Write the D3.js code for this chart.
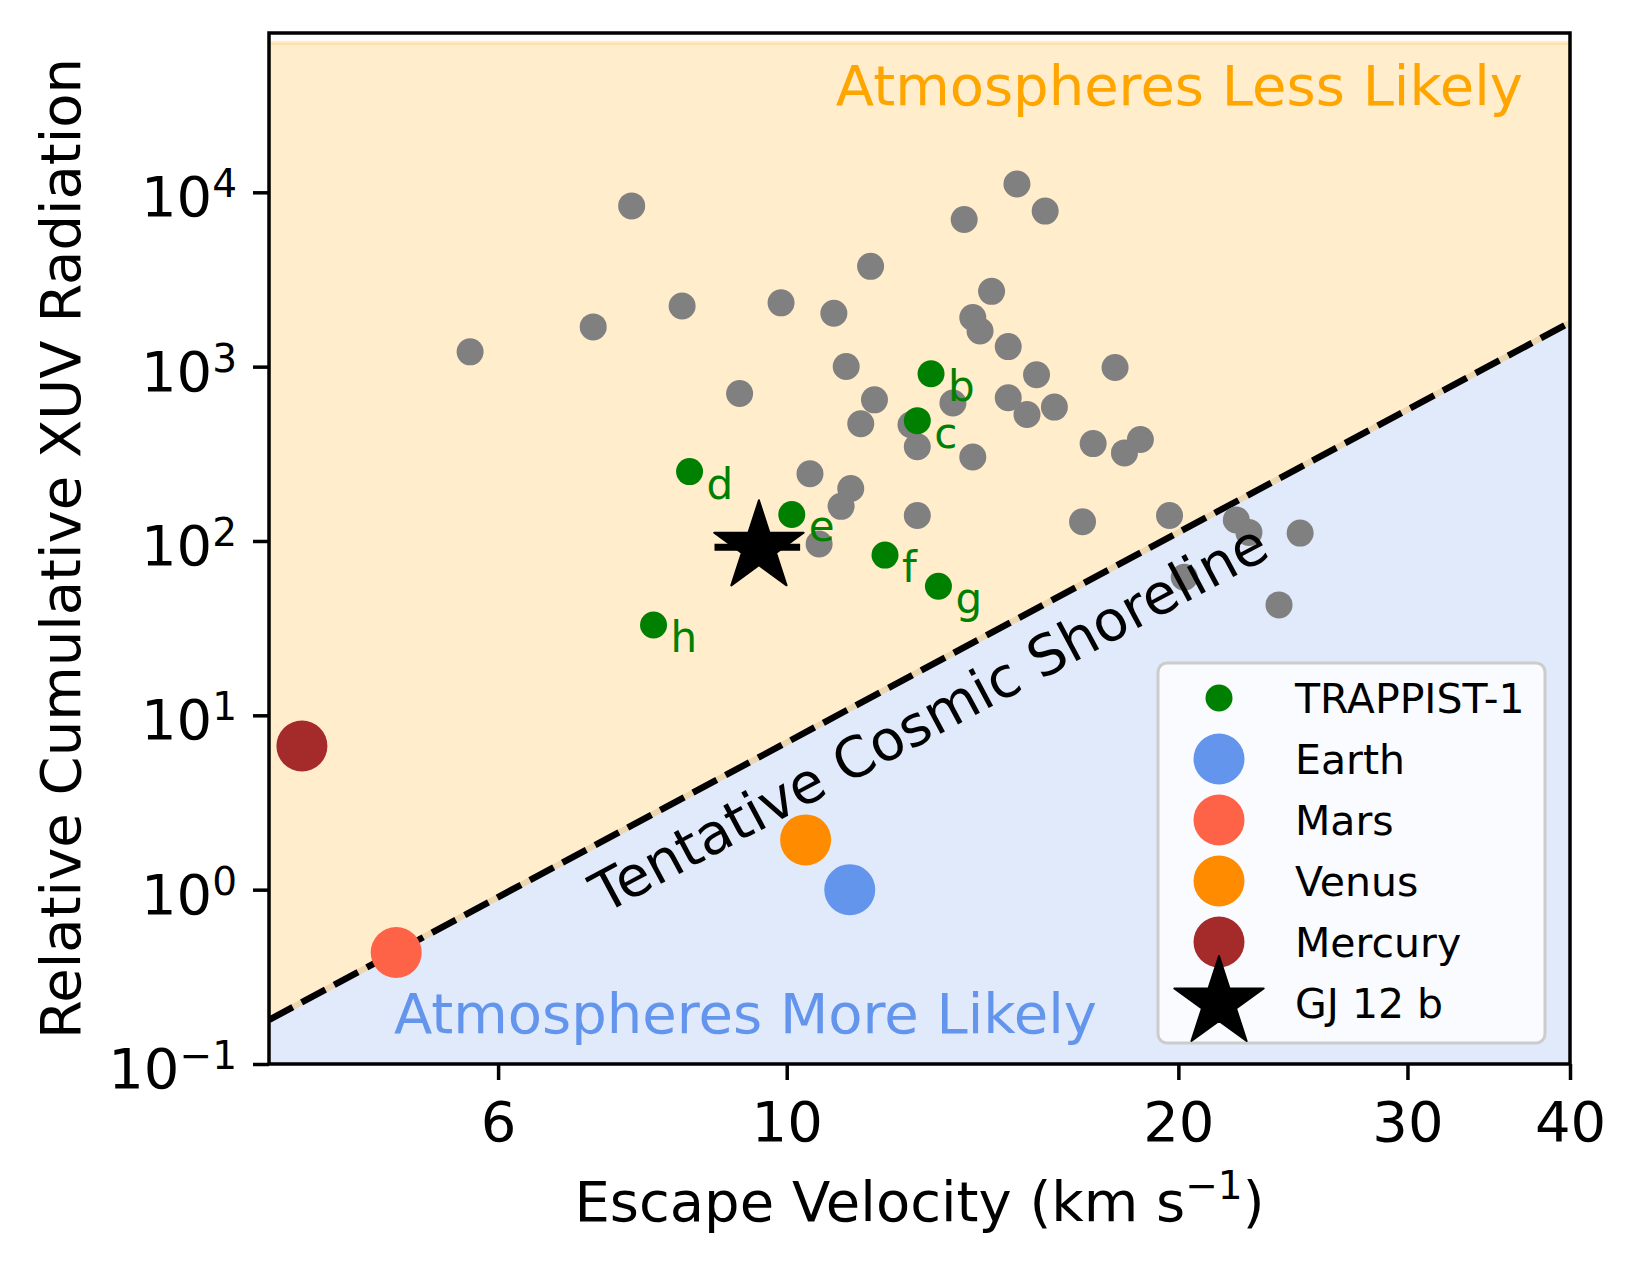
<!DOCTYPE html>
<html>
<head>
<meta charset="utf-8">
<script src="https://d3js.org/d3.v7.min.js"></script>
<style>
  body { margin: 0; background: #fff; }
  text { font-family: "DejaVu Sans", sans-serif; }
</style>
</head>
<body>
<div id="chart"></div>
<script>
var W = 1635, H = 1275;
var plot = {left: 269, right: 1570, top: 33, bottom: 1064};

// grey comparison sample: escape velocity (km/s) and relative cumulative XUV
var otherVesc = [5.71, 7.10, 7.60, 8.31, 9.20, 9.90, 10.59, 10.42, 10.87, 11.11,
                 11.20, 11.01, 11.40, 11.60, 11.68, 12.46, 12.60, 12.60, 13.42, 13.69,
                 13.90, 14.08, 13.90, 14.37, 14.80, 14.80, 15.03, 15.30, 15.56, 15.80,
                 16.06, 16.88, 17.20, 17.88, 18.18, 18.70, 19.69, 20.21, 22.16, 22.66,
                 24.81, 23.90];
var otherXUV = [1216, 1691, 8356, 2229, 701, 2323, 96, 243, 2023, 1003,
                200, 158, 470, 3761, 645, 464, 347, 140, 619, 6988,
                1915, 1602, 303, 2704, 1303, 663, 11170, 532, 898, 7800,
                586, 129, 362, 989, 320, 382, 140, 62, 132, 112,
                111, 43];

// TRAPPIST-1 planets
var trappistNames = ["b", "c", "d", "e", "f", "g", "h"];
var trappistVesc = [12.91, 12.60, 8.42, 10.09, 11.90, 13.08, 7.90];
var trappistXUV = [910, 490, 250, 142, 83, 55, 33];

// solar system
var solarNames = ["Earth", "Mars", "Venus", "Mercury"];
var solarVesc = [11.18, 5.01, 10.34, 4.24];
var solarXUV = [1.0, 0.436, 1.93, 6.67];
var solarColors = ["cornflowerblue", "tomato", "darkorange", "brown"];

// GJ 12 b
var gjVesc = 9.52, gjVescErr = 0.72, gjXUV = 92;

// tentative cosmic shoreline, I ~ v^4
var shoreVesc = [4, 40];
var shoreXUV = [0.179, 1790];

var xTicks = [6, 10, 20, 30, 40];
var yTickExp = [-1, 0, 1, 2, 3, 4];

var xDomain = [4, 40];
var yDomain = [0.1, 8.2e4];
var fillTop = 7.2e4, fillBottom = 0.01;

var legendLabels = ["TRAPPIST-1", "Earth", "Mars", "Venus", "Mercury", "GJ 12 b"];

var fs = 56; // main font size

function init(){

  var svg = d3.select("#chart").append("svg")
      .attr("width", W)
      .attr("height", H);

  var xScale = d3.scaleLog().domain(xDomain).range([plot.left, plot.right]);
  var yScale = d3.scaleLog().domain(yDomain).range([plot.bottom, plot.top]);

  svg.append("clipPath").attr("id", "clip")
     .append("rect")
     .attr("x", plot.left).attr("y", plot.top)
     .attr("width", plot.right - plot.left)
     .attr("height", plot.bottom - plot.top);

  var inner = svg.append("g").attr("clip-path", "url(#clip)");

  var shore = shoreVesc.map(function(v, i){ return [xScale(v), yScale(shoreXUV[i])]; });
  var x0 = xScale(xDomain[0]), x1 = xScale(xDomain[1]);

  //regions either side of the shoreline
  inner.append("path")
       .attr("d", d3.line()([shore[0], shore[1], [x1, yScale(fillTop)], [x0, yScale(fillTop)]]) + "Z")
       .attr("fill", "orange").attr("fill-opacity", 0.2)
       .attr("stroke", "orange").attr("stroke-opacity", 0.2).attr("stroke-width", 4);

  inner.append("path")
       .attr("d", d3.line()([shore[0], shore[1], [x1, yScale(fillBottom)], [x0, yScale(fillBottom)]]) + "Z")
       .attr("fill", "cornflowerblue").attr("fill-opacity", 0.2);

  //beige edge seen in the dash gaps, then the dashed shoreline
  inner.append("path")
       .attr("d", d3.line()(shore))
       .attr("fill", "none")
       .attr("stroke", "#ecd7b0")
       .attr("stroke-width", 6);

  inner.append("path")
       .attr("d", d3.line()(shore))
       .attr("fill", "none")
       .attr("stroke", "black")
       .attr("stroke-width", 6.5)
       .attr("stroke-dasharray", "27,10");

  //grey sample
  inner.selectAll("circle.other")
       .data(otherVesc)
       .enter()
       .append("circle")
       .attr("class", "other")
       .attr("cx", function(d){ return xScale(d); })
       .attr("cy", function(d, i){ return yScale(otherXUV[i]); })
       .attr("r", 13.5)
       .attr("fill", "grey");

  //trappist-1
  inner.selectAll("circle.trappist")
       .data(trappistVesc)
       .enter()
       .append("circle")
       .attr("class", "trappist")
       .attr("cx", function(d){ return xScale(d); })
       .attr("cy", function(d, i){ return yScale(trappistXUV[i]); })
       .attr("r", 13.5)
       .attr("fill", "green");

  inner.selectAll("text.trappist")
       .data(trappistNames)
       .enter()
       .append("text")
       .attr("class", "trappist")
       .attr("x", function(d, i){ return xScale(trappistVesc[i]) + 17; })
       .attr("y", function(d, i){ return yScale(trappistXUV[i]) + 27; })
       .attr("font-size", 42)
       .attr("fill", "green")
       .text(function(d){ return d; });

  //solar system planets
  inner.selectAll("circle.solar")
       .data(solarNames)
       .enter()
       .append("circle")
       .attr("class", "solar")
       .attr("cx", function(d, i){ return xScale(solarVesc[i]); })
       .attr("cy", function(d, i){ return yScale(solarXUV[i]); })
       .attr("r", 25.5)
       .attr("fill", function(d, i){ return solarColors[i]; });

  //GJ 12 b with error bar
  var star = d3.symbol().type(d3.symbolStar).size(47 * 47 / 0.8908130915292852);
  inner.append("line")
       .attr("x1", xScale(gjVesc - gjVescErr))
       .attr("x2", xScale(gjVesc + gjVescErr))
       .attr("y1", yScale(gjXUV)).attr("y2", yScale(gjXUV))
       .attr("stroke", "black").attr("stroke-width", 7);
  inner.append("path")
       .attr("d", star())
       .attr("transform", "translate(" + xScale(gjVesc) + "," + yScale(gjXUV) + ")")
       .attr("fill", "black").attr("stroke", "black")
       .attr("stroke-width", 2).attr("stroke-linejoin", "round");

  //region labels
  svg.append("text")
     .attr("x", 1523).attr("y", 105)
     .attr("text-anchor", "end")
     .attr("font-size", fs)
     .attr("fill", "orange")
     .text("Atmospheres Less Likely");

  svg.append("text")
     .attr("x", 394).attr("y", 1033)
     .attr("font-size", fs)
     .attr("fill", "cornflowerblue")
     .text("Atmospheres More Likely");

  var angle = Math.atan2(shore[1][1] - shore[0][1], shore[1][0] - shore[0][0]) * 180 / Math.PI;
  svg.append("text")
     .attr("transform", "translate(929,718) rotate(" + angle + ")")
     .attr("text-anchor", "middle")
     .attr("dominant-baseline", "central")
     .attr("font-size", fs)
     .attr("fill", "black")
     .text("Tentative Cosmic Shoreline");

  //frame
  svg.append("rect")
     .attr("x", plot.left).attr("y", plot.top)
     .attr("width", plot.right - plot.left)
     .attr("height", plot.bottom - plot.top)
     .attr("fill", "none")
     .attr("stroke", "black")
     .attr("stroke-width", 3.5);

  //x axis
  var xAxis = svg.append("g")
     .attr("transform", "translate(0," + plot.bottom + ")")
     .call(d3.axisBottom(xScale).tickValues(xTicks).tickFormat(d3.format("d")).tickSize(16).tickPadding(21));
  xAxis.select(".domain").remove();
  xAxis.selectAll(".tick line").attr("stroke-width", 3.5);
  xAxis.selectAll(".tick text")
       .attr("font-size", fs)
       .attr("font-family", "'DejaVu Sans', sans-serif")
       .attr("fill", "black");

  //y axis, labels written as powers of ten
  var yAxis = svg.append("g")
     .attr("transform", "translate(" + plot.left + ",0)")
     .call(d3.axisLeft(yScale).tickValues(yTickExp.map(function(e){ return Math.pow(10, e); }))
           .tickFormat("").tickSize(16));
  yAxis.select(".domain").remove();
  yAxis.selectAll(".tick line").attr("stroke-width", 3.5);

  var ylab = svg.selectAll("text.ytick")
     .data(yTickExp)
     .enter()
     .append("text")
     .attr("class", "ytick")
     .attr("x", plot.left - 32)
     .attr("y", function(d){ return yScale(Math.pow(10, d)) + 24; })
     .attr("text-anchor", "end")
     .attr("font-size", fs)
     .attr("fill", "black");
  ylab.append("tspan").text("10");
  ylab.append("tspan")
      .attr("font-size", 39)
      .attr("dy", -19)
      .text(function(d){ return d < 0 ? "\u2212" + (-d) : d; });

  //axis titles
  var xt = svg.append("text")
     .attr("x", (plot.left + plot.right) / 2).attr("y", 1221)
     .attr("text-anchor", "middle")
     .attr("font-size", fs)
     .attr("fill", "black");
  xt.append("tspan").text("Escape Velocity (km s");
  xt.append("tspan").attr("font-size", 39).attr("dy", -22).text("\u22121");
  xt.append("tspan").attr("dy", 22).text(")");

  svg.append("text")
     .attr("transform", "translate(80," + ((plot.top + plot.bottom) / 2) + ") rotate(-90)")
     .attr("text-anchor", "middle")
     .attr("font-size", fs)
     .attr("fill", "black")
     .text("Relative Cumulative XUV Radiation");

  //legend
  var lg = svg.append("g");
  lg.append("rect")
    .attr("x", 1158).attr("y", 663)
    .attr("width", 387).attr("height", 380)
    .attr("rx", 9)
    .attr("fill", "white").attr("fill-opacity", 0.8)
    .attr("stroke", "#cccccc").attr("stroke-width", 3);

  var rowY = function(i){ return 698 + i * 61; };
  var legendColors = ["green"].concat(solarColors);
  lg.selectAll("circle")
    .data(legendColors)
    .enter()
    .append("circle")
    .attr("cx", 1219)
    .attr("cy", function(d, i){ return rowY(i); })
    .attr("r", function(d, i){ return i == 0 ? 13.5 : 25.5; })
    .attr("fill", function(d){ return d; });
  lg.append("path")
    .attr("d", star())
    .attr("transform", "translate(1219," + rowY(5) + ")")
    .attr("fill", "black").attr("stroke", "black")
    .attr("stroke-width", 2).attr("stroke-linejoin", "round");

  lg.selectAll("text")
    .data(legendLabels)
    .enter()
    .append("text")
    .attr("x", 1295)
    .attr("y", function(d, i){ return rowY(i) + 14.5; })
    .attr("font-size", 41)
    .attr("fill", "black")
    .text(function(d){ return d; });
}

window.onload = init;
</script>
</body>
</html>
